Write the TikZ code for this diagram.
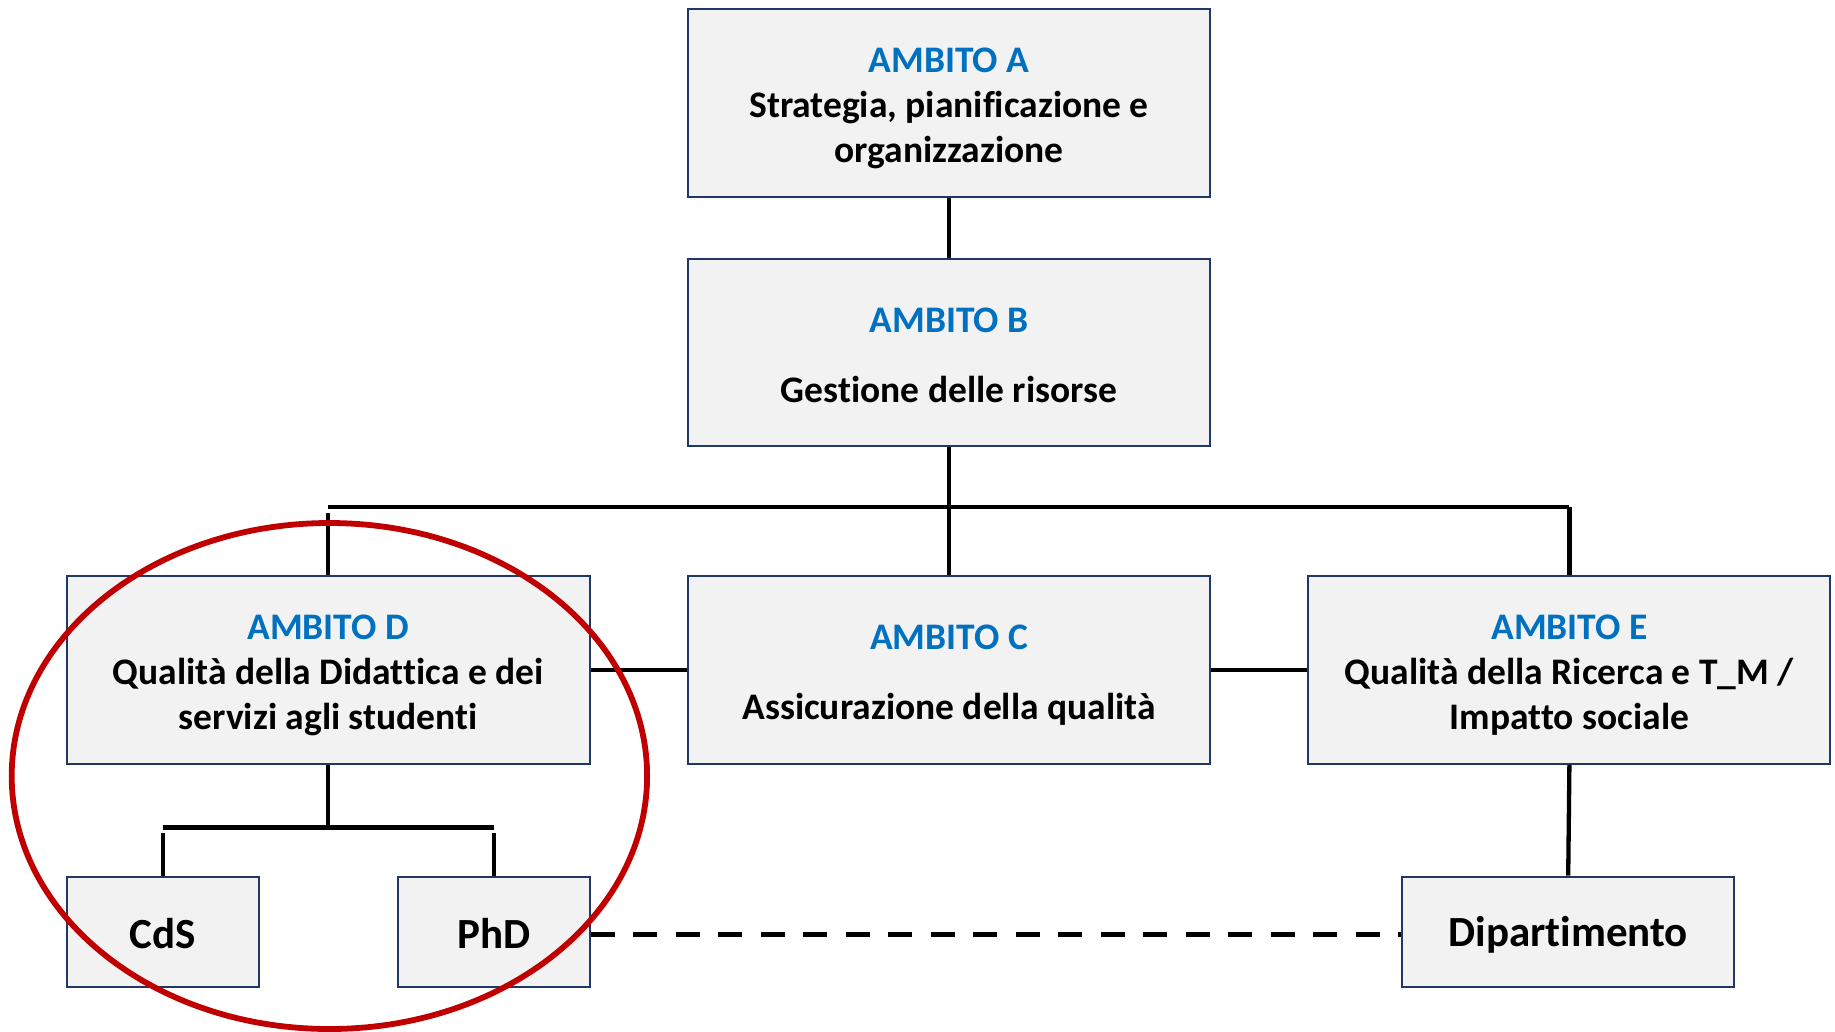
\documentclass[tikz,border=0pt]{standalone}
\usepackage{fontspec}
\setmainfont{Carlito}[Ligatures=CommonOff]
\usetikzlibrary{calc}
\definecolor{boxfill}{HTML}{F2F2F2}
\definecolor{boxline}{HTML}{1F3864}
\definecolor{ambblue}{HTML}{0070C0}
\definecolor{ringred}{HTML}{C00000}
\begin{document}
\begin{tikzpicture}[x=1pt,y=-1pt,
  ambbox/.style={draw=boxline, line width=2pt, fill=boxfill, inner sep=0pt},
  ambtext/.style={inner sep=0pt, align=center, font=\fontsize{37.5}{45}\selectfont\bfseries},
  leaftext/.style={inner sep=0pt, align=center, font=\fontsize{43}{50}\selectfont\bfseries},
  conn/.style={line width=4.3pt, black},
  dashconn/.style={line width=5.5pt, black, dash pattern=on 24pt off 18.5pt},
  ring/.style={draw=ringred, line width=5.8pt}
]
\useasboundingbox (0,0) rectangle (1835,1031);
% main boxes
\node[ambbox, minimum width=522pt, minimum height=188pt,
  label={[ambtext, yshift=-5pt]center:{\textcolor{ambblue}{AMBITO A}\\Strategia, pianificazione e\\organizzazione}}]
  (A) at (949,103) {};
\node[ambbox, minimum width=522pt, minimum height=187pt,
  label={[ambtext, yshift=-3pt]center:{\textcolor{ambblue}{AMBITO B}\\[25pt]Gestione delle risorse}}]
  (B) at (949,352) {};
\node[ambbox, minimum width=523pt, minimum height=188pt,
  label={[ambtext, yshift=-5pt]center:{\textcolor{ambblue}{AMBITO D}\\Qualità della Didattica e dei\\servizi agli studenti}}]
  (D) at (328.2,670) {};
\node[ambbox, minimum width=522pt, minimum height=188pt,
  label={[ambtext, yshift=-5pt]center:{\textcolor{ambblue}{AMBITO C}\\[25pt]Assicurazione della qualità}}]
  (C) at (949,670) {};
\node[ambbox, minimum width=522pt, minimum height=188pt,
  label={[ambtext, yshift=-5pt]center:{\textcolor{ambblue}{AMBITO E}\\Qualità della Ricerca e T\_M /\\Impatto sociale}}]
  (E) at (1569.4,670) {};
% leaf boxes
\node[ambbox, minimum width=192pt, minimum height=110pt,
  label={[leaftext, yshift=-2pt]center:CdS}] (CdS) at (162.7,931.6) {};
\node[ambbox, minimum width=192pt, minimum height=110pt,
  label={[leaftext, yshift=-2pt]center:PhD}] (PhD) at (493.9,931.6) {};
\node[ambbox, minimum width=332pt, minimum height=110pt,
  label={[leaftext, yshift=-3pt]center:Dipartimento}] (Dip) at (1568.2,931.6) {};
% connectors
\coordinate (busL) at (D.north |- 0,507);
\coordinate (busLg) at (D.north |- 0,513);
\coordinate (busR) at (E.north |- 0,507);
\coordinate (subL) at (CdS.north |- 0,827.4);
\coordinate (subR) at (PhD.north |- 0,827.4);
\coordinate (subLg) at (CdS.north |- 0,833);
\coordinate (subRg) at (PhD.north |- 0,833);
\coordinate (subM) at (D.south |- 0,827.4);
\draw[conn] (A.south) -- (B.north);
\draw[conn] (B.south) -- (C.north);
\draw[conn] (busL) -- (busR);
\draw[conn] (busLg) -- (D.north);
\draw[conn] (busR) -- (E.north);
\draw[conn] (D.east) -- (C.west);
\draw[conn] (C.east) -- (E.west);
\draw[conn] (D.south) -- (subM);
\draw[conn] (subL) -- (subR);
\draw[conn] (subLg) -- (CdS.north);
\draw[conn] (subRg) -- (PhD.north);
\draw[conn] (E.south) -- (Dip.north);
\draw[dashconn] ($(PhD.east)+(0,3)$) -- ($(Dip.west)+(0,3)$);
% red ring
\draw[ring] (329.4,776) ellipse [x radius=317.7, y radius=253];
\end{tikzpicture}
\end{document}
